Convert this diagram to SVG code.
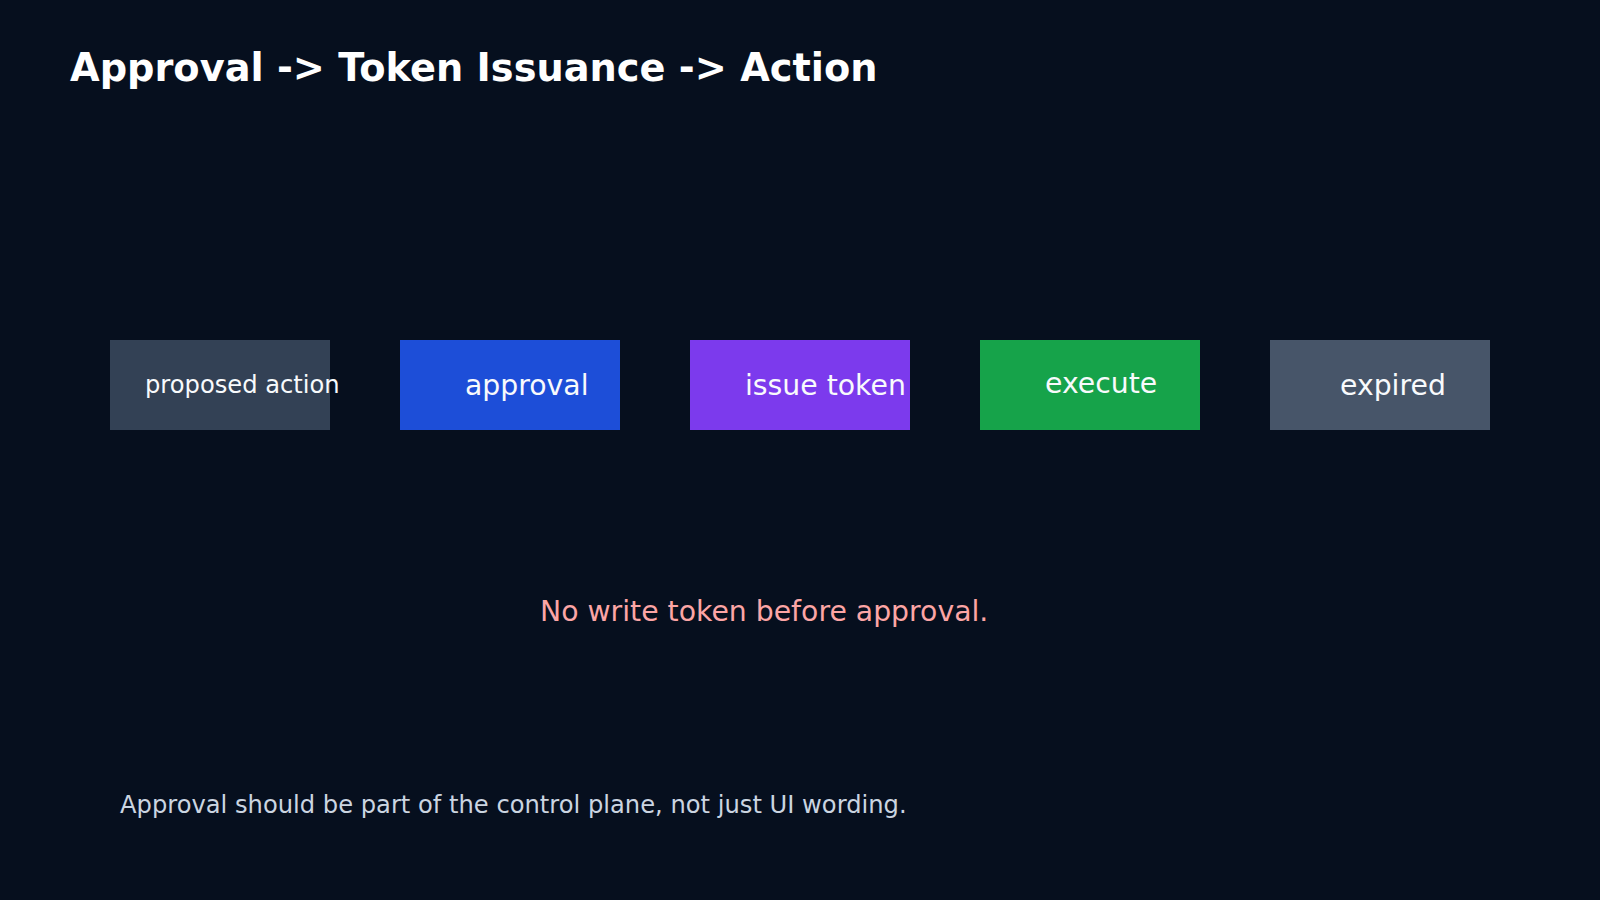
<svg xmlns="http://www.w3.org/2000/svg" width="1600" height="900" viewBox="0 0 1600 900">
<style>
text{font-family:"DejaVu Sans","Liberation Sans",sans-serif;}
.title{font-size:38.3px;font-weight:bold;fill:#ffffff;}
.lbl{font-size:28.3px;fill:#f8fafc;}
.small{font-size:24.2px;}
.warn{font-size:28.3px;fill:#fca5a5;}
.foot{font-size:24.2px;fill:#cbd5e1;}
</style>
<rect x="0" y="0" width="1600" height="900" fill="#060f1e"/>
<text class="title" x="70" y="81">Approval -&gt; Token Issuance -&gt; Action</text>
<g id="connectors"/>
<g id="proposed-action">
<rect x="110" y="340" width="220" height="90" fill="#334155"/>
<text class="lbl small" x="145" y="393">proposed action</text>
</g>
<g id="approval">
<rect x="400" y="340" width="220" height="90" fill="#1d4ed8"/>
<text class="lbl" x="465" y="395">approval</text>
</g>
<g id="issue-token">
<rect x="690" y="340" width="220" height="90" fill="#7c3aed"/>
<text class="lbl" x="745" y="395">issue token</text>
</g>
<g id="execute">
<rect x="980" y="340" width="220" height="90" fill="#16a34a"/>
<text class="lbl" x="1045" y="393">execute</text>
</g>
<g id="expired">
<rect x="1270" y="340" width="220" height="90" fill="#475569"/>
<text class="lbl" x="1340" y="395">expired</text>
</g>
<text class="warn" x="540" y="621">No write token before approval.</text>
<text class="foot" x="120" y="813">Approval should be part of the control plane, not just UI wording.</text>
</svg>
